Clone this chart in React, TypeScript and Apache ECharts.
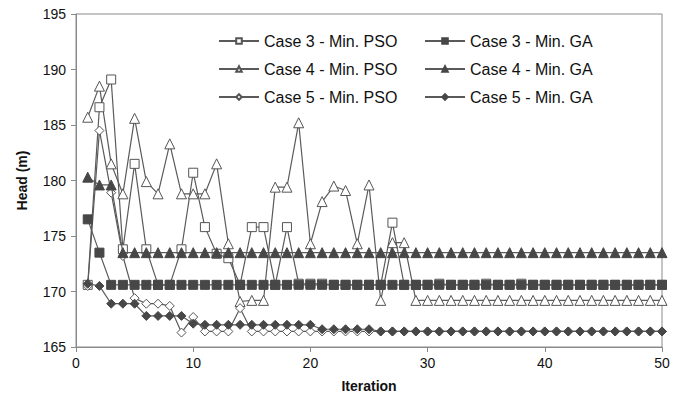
import React, { useEffect, useRef } from "react";
import * as echarts from "echarts";

const iterations = Array.from({ length: 50 }, (_, k) => k + 1);

const case3PSO = [
  170.6, 186.6, 189.1, 173.8, 181.5, 173.8, 170.6, 170.6, 173.8, 180.7,
  175.8, 173.4, 173.0, 170.6, 175.8, 175.8, 170.6, 175.8, 170.7, 170.7,
  170.7, 170.6, 170.6, 170.6, 170.6, 170.6, 176.2, 170.6, 170.6, 170.6,
  170.7, 170.6, 170.6, 170.6, 170.7, 170.6, 170.6, 170.7, 170.6, 170.6,
  170.6, 170.6, 170.6, 170.6, 170.6, 170.6, 170.6, 170.6, 170.6, 170.6,
];
const case3GA = [
  176.5, 173.5, 170.6, 170.6, 170.6, 170.6, 170.6, 170.6, 170.6, 170.6,
  170.6, 170.6, 170.6, 170.6, 170.6, 170.6, 170.6, 170.6, 170.6, 170.6,
  170.6, 170.6, 170.6, 170.6, 170.6, 170.6, 170.6, 170.6, 170.6, 170.6,
  170.6, 170.6, 170.6, 170.6, 170.6, 170.6, 170.6, 170.6, 170.6, 170.6,
  170.6, 170.6, 170.6, 170.6, 170.6, 170.6, 170.6, 170.6, 170.6, 170.6,
];
const case4PSO = [
  185.7, 188.5, 181.5, 178.8, 185.6, 179.9, 178.8, 183.3, 178.8, 178.8,
  178.8, 181.5, 174.3, 169.1, 169.2, 169.2, 179.4, 179.4, 185.2, 174.3,
  178.1, 179.5, 179.1, 174.3, 179.6, 169.2, 174.4, 174.4, 169.2, 169.2,
  169.2, 169.2, 169.2, 169.2, 169.2, 169.2, 169.2, 169.2, 169.2, 169.2,
  169.2, 169.2, 169.2, 169.2, 169.2, 169.2, 169.2, 169.2, 169.2, 169.2,
];
const case4GA = [
  180.3, 179.6, 179.6, 173.5, 173.5, 173.5, 173.5, 173.5, 173.5, 173.5,
  173.5, 173.5, 173.5, 173.5, 173.5, 173.5, 173.5, 173.5, 173.5, 173.5,
  173.5, 173.5, 173.5, 173.5, 173.5, 173.5, 173.5, 173.5, 173.5, 173.5,
  173.5, 173.5, 173.5, 173.5, 173.5, 173.5, 173.5, 173.5, 173.5, 173.5,
  173.5, 173.5, 173.5, 173.5, 173.5, 173.5, 173.5, 173.5, 173.5, 173.5,
];
const case5PSO = [
  170.5, 184.5, 178.9, 173.2, 169.4, 168.9, 168.9, 168.7, 166.3, 167.7,
  166.4, 166.4, 166.4, 168.5, 166.4, 166.4, 166.4, 166.4, 166.4, 166.4,
  166.4, 166.4, 166.4, 166.4, 166.4, 166.4, 166.4, 166.4, 166.4, 166.4,
  166.4, 166.4, 166.4, 166.4, 166.4, 166.4, 166.4, 166.4, 166.4, 166.4,
  166.4, 166.4, 166.4, 166.4, 166.4, 166.4, 166.4, 166.4, 166.4, 166.4,
];
const case5GA = [
  170.7, 170.5, 168.9, 168.9, 168.9, 167.8, 167.8, 167.8, 167.8, 167.1,
  167.0, 167.0, 167.0, 167.0, 167.0, 167.0, 167.0, 167.0, 167.0, 167.0,
  166.6, 166.6, 166.6, 166.6, 166.6, 166.4, 166.4, 166.4, 166.4, 166.4,
  166.4, 166.4, 166.4, 166.4, 166.4, 166.4, 166.4, 166.4, 166.4, 166.4,
  166.4, 166.4, 166.4, 166.4, 166.4, 166.4, 166.4, 166.4, 166.4, 166.4,
];

const seriesNames = [
  "Case 3 - Min. PSO",
  "Case 3 - Min. GA",
  "Case 4 - Min. PSO",
  "Case 4 - Min. GA",
  "Case 5 - Min. PSO",
  "Case 5 - Min. GA",
];

const xTicks = { min: 0, max: 50, interval: 10 };
const yTicks = { min: 165, max: 195, interval: 5 };

const FONT = "'Liberation Sans', Arial, sans-serif";
const LINE = "#5a5a5a";
const FILL = "#474747";

export default function App() {
  const ref = useRef<HTMLDivElement>(null);
  useEffect(() => {
    if (!ref.current) return;
    const chart = echarts.init(ref.current, null, { renderer: "svg" });
    const mk = (name: string, vals: number[], symbol: string, size: number, filled: boolean, z: number) => ({
      name,
      type: "line",
      data: iterations.map((it, k) => [it, vals[k]]),
      symbol,
      symbolSize: size,
      showAllSymbol: true,
      z,
      lineStyle: { color: LINE, width: 1.2 },
      itemStyle: filled
        ? { color: FILL, borderColor: FILL, borderWidth: 1 }
        : { color: "#ffffff", borderColor: "#555", borderWidth: 1 },
      emphasis: { disabled: true },
    });
    const legendText = { fontSize: 16, color: "#111", fontFamily: FONT, lineHeight: 18 };
    chart.setOption({
      animation: false,
      textStyle: { fontFamily: FONT },
      grid: {
        left: 76,
        right: 21,
        top: 14,
        bottom: 59,
        show: true,
        borderColor: "#8a8a8a",
        borderWidth: 1,
      },
      legend: [
        {
          data: [seriesNames[0], seriesNames[2], seriesNames[4]],
          orient: "vertical",
          left: 213,
          top: 27,
          itemWidth: 40,
          itemHeight: 7,
          itemGap: 10,
          textStyle: legendText,
        },
        {
          data: [seriesNames[1], seriesNames[3], seriesNames[5]],
          orient: "vertical",
          left: 419,
          top: 27,
          itemWidth: 40,
          itemHeight: 7,
          itemGap: 10,
          textStyle: legendText,
        },
      ],
      xAxis: {
        type: "value",
        min: xTicks.min,
        max: xTicks.max,
        interval: xTicks.interval,
        name: "Iteration",
        nameLocation: "middle",
        nameGap: 32,
        nameTextStyle: { fontSize: 14, fontWeight: "bold", color: "#111", fontFamily: FONT },
        axisLine: { lineStyle: { color: "#8a8a8a" } },
        axisTick: { show: true, length: 5, lineStyle: { color: "#8a8a8a" } },
        axisLabel: { fontSize: 14, color: "#111", margin: 9 },
        splitLine: { show: false },
      },
      yAxis: {
        type: "value",
        min: yTicks.min,
        max: yTicks.max,
        interval: yTicks.interval,
        name: "Head (m)",
        nameLocation: "middle",
        nameRotate: 90,
        nameGap: 47,
        nameTextStyle: { fontSize: 14, fontWeight: "bold", color: "#111", fontFamily: FONT },
        axisLine: { show: true, lineStyle: { color: "#8a8a8a" } },
        axisTick: { show: true, length: 5, lineStyle: { color: "#8a8a8a" } },
        axisLabel: { fontSize: 14, color: "#111", margin: 10 },
        splitLine: { show: false },
      },
      series: [
        mk(seriesNames[0], case3PSO, "rect", 9, false, 2),
        mk(seriesNames[1], case3GA, "rect", 9, true, 3),
        mk(seriesNames[2], case4PSO, "triangle", 10, false, 2),
        mk(seriesNames[3], case4GA, "triangle", 10, true, 3),
        mk(seriesNames[4], case5PSO, "diamond", 9, false, 2),
        mk(seriesNames[5], case5GA, "diamond", 9, true, 3),
      ],
    });
    return () => chart.dispose();
  }, []);
  return <div ref={ref} style={{ width: 683, height: 406, position: "absolute", left: 0, top: 0 }} />;
}
